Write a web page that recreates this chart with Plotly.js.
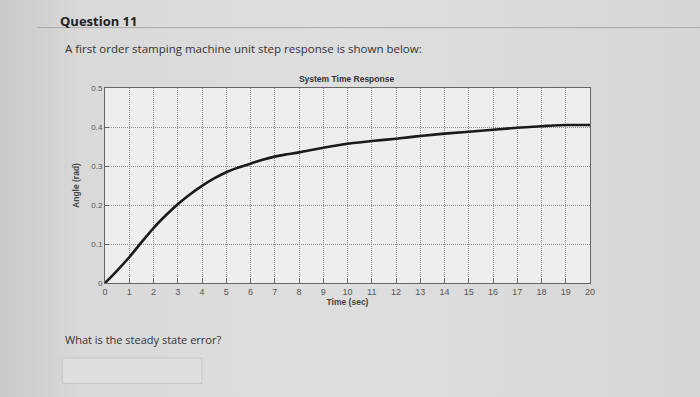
<!DOCTYPE html>
<html>
<head>
<meta charset="utf-8">
<script src="https://cdn.plot.ly/plotly-3.0.1.min.js"></script>
<style>
html,body{margin:0;padding:0;}
body{width:700px;height:397px;background:linear-gradient(90deg,#c9c9c9 0%,#d9d9d9 12%,#dedede 50%,#d6d6d6 100%);}
#chart{width:700px;height:397px;}
</style>
</head>
<body>
<div id="chart"></div>
<script>
// Data
var timeSec = [0, 0.5, 1, 1.5, 2, 2.5, 3, 3.5, 4, 4.5, 5, 5.5, 6, 6.5, 7, 7.5, 8, 9, 10, 11, 12, 13, 14, 15, 16, 17, 18, 18.5, 19, 20];
var angleRad = [0, 0.032, 0.066, 0.104, 0.141, 0.173, 0.202, 0.227, 0.249, 0.268, 0.284, 0.296, 0.306, 0.316, 0.324, 0.33, 0.335, 0.347, 0.357, 0.364, 0.37, 0.377, 0.383, 0.388, 0.393, 0.398, 0.402, 0.404, 0.405, 0.405];
var xTicks = [0,1,2,3,4,5,6,7,8,9,10,11,12,13,14,15,16,17,18,19,20];
var yTicks = [0, 0.1, 0.2, 0.3, 0.4, 0.5];
var yTickText = ["0", "0.1", "0.2", "0.3", "0.4", "0.5"];

var trace = {
  x: timeSec, y: angleRad, type: 'scatter', mode: 'lines',
  line: {color: '#1a1a1a', width: 2.6, shape: 'spline', smoothing: 1},
  hoverinfo: 'skip'
};

var layout = {
  width: 700, height: 397,
  margin: {l: 105, r: 110, t: 88, b: 114},
  paper_bgcolor: 'rgba(0,0,0,0)',
  plot_bgcolor: '#eeeeee',
  showlegend: false,
  font: {family: 'Arial, Liberation Sans, sans-serif', color: '#444'},
  xaxis: {
    range: [0, 20], tickvals: xTicks, ticktext: xTicks.map(String),
    showgrid: true, gridcolor: '#8f8f8f', griddash: '1px,1px', gridwidth: 1,
    zeroline: false, showline: true, linecolor: '#666', linewidth: 1, mirror: true,
    ticks: 'inside', ticklen: 4, tickcolor: '#666',
    tickfont: {size: 9, color: '#555'},
    title: {text: '<b>Time (sec)</b>', font: {size: 8.5, color: '#444'}, standoff: 1}
  },
  yaxis: {
    range: [0, 0.5], tickvals: yTicks, ticktext: yTickText,
    showgrid: true, gridcolor: '#8f8f8f', griddash: '1px,1px', gridwidth: 1,
    zeroline: false, showline: true, linecolor: '#666', linewidth: 1, mirror: true,
    ticks: 'inside', ticklen: 4, tickcolor: '#666',
    tickfont: {size: 8, color: '#555'},
    title: {text: '<b>Angle (rad)</b>', font: {size: 8.5, color: '#444'}, standoff: 10}
  },
  title: {text: '<b>System Time Response</b>', font: {size: 8.5, color: '#333'}, x: 0.498, xref: 'paper', xanchor: 'center', y: 1 - 79/397, yref: 'container', yanchor: 'middle'},
  annotations: [
    {text: '<b>Question 11</b>', xref: 'paper', yref: 'paper', x: -0.097, y: 1.345, xanchor: 'left', yanchor: 'middle', showarrow: false,
     font: {size: 13, color: '#222', family: 'Open Sans, sans-serif'}},
    {text: 'A first order stamping machine unit step response is shown below:', xref: 'paper', yref: 'paper', x: -0.086, y: 1.205, xanchor: 'left', yanchor: 'middle', showarrow: false,
     font: {size: 11.5, color: '#333', family: 'Open Sans, sans-serif'}},
    {text: 'What is the steady state error?', xref: 'paper', yref: 'paper', x: -0.086, y: -0.29, xanchor: 'left', yanchor: 'middle', showarrow: false,
     font: {size: 11, color: '#333', family: 'Open Sans, sans-serif'}}
  ],
  shapes: [
    {type: 'line', xref: 'paper', yref: 'paper', x0: -0.14, x1: 1.25, y0: 1.31, y1: 1.31, line: {color: '#aaa', width: 1}},
    {type: 'rect', xref: 'paper', yref: 'paper', x0: -0.088, x1: 0.2, y0: -0.385, y1: -0.515, line: {color: '#c4c4c4', width: 1}, fillcolor: '#dedede'}
  ]
};

Plotly.newPlot('chart', [trace], layout, {displayModeBar: false, staticPlot: true});
</script>
</body>
</html>
